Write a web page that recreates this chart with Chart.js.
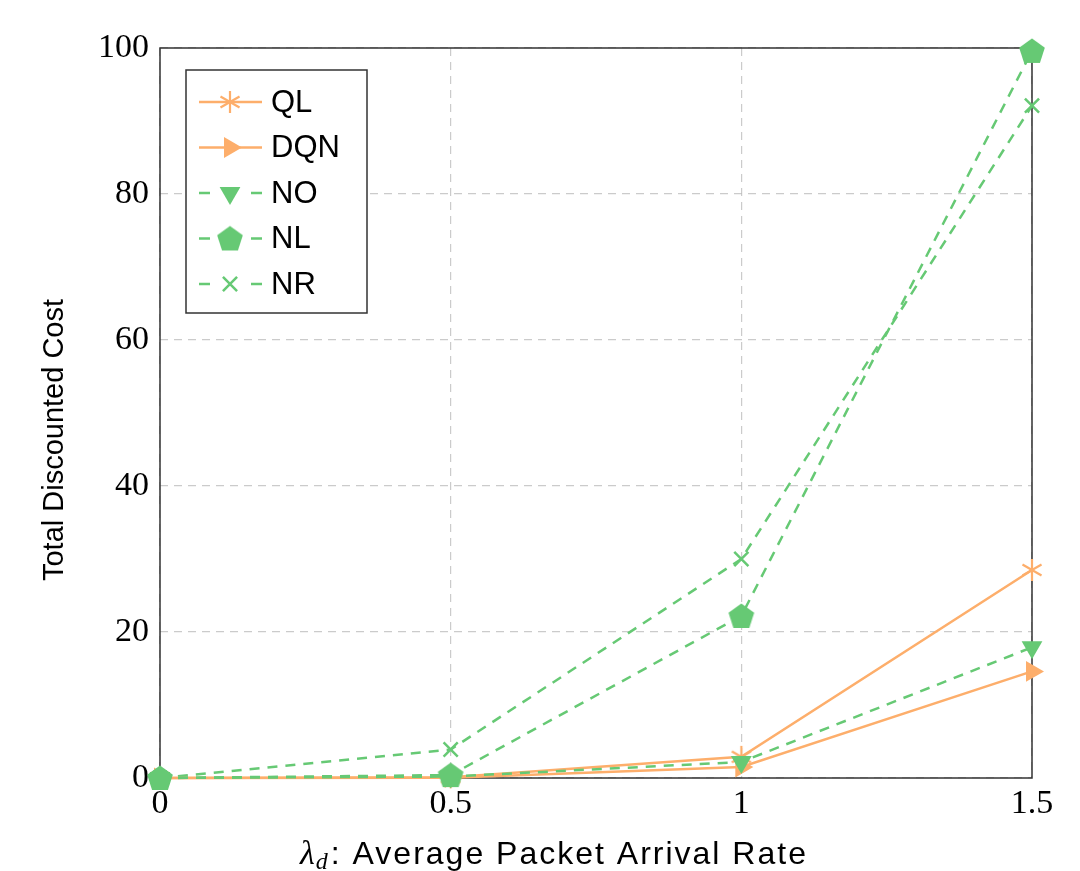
<!DOCTYPE html>
<html>
<head>
<meta charset="utf-8">
<script src="https://cdn.jsdelivr.net/npm/chart.js@4/dist/chart.umd.min.js"></script>
<style>
  html, body { margin: 0; padding: 0; background: #fff; }
  #wrap { width: 1080px; height: 871px; }
</style>
</head>
<body>
<div id="wrap"><canvas id="costChart" width="1080" height="871"></canvas></div>
<script>
// data
var arrivalRates = [0, 0.5, 1, 1.5];
var seriesNames = ['QL', 'DQN', 'NO', 'NL', 'NR'];
var qlCost  = [0, 0.1, 2.9, 28.5];
var dqnCost = [0, 0.05, 1.5, 14.6];
var noCost  = [0, 0.2, 2.2, 17.9];
var nlCost  = [0, 0.4, 22.2, 99.6];
var nrCost  = [0, 3.9, 30.0, 92.1];
var yTicks = [0, 20, 40, 60, 80, 100];
var xTicks = [0, 0.5, 1, 1.5];

var orange = '#fdae6b';
var green = '#66c974';

function pts(vals) {
  return vals.map(function(v, i) { return { x: arrivalRates[i], y: v }; });
}

// custom marker images
function makeAsterisk() {
  var c = document.createElement('canvas');
  c.width = 26; c.height = 26;
  var g = c.getContext('2d');
  g.strokeStyle = orange; g.lineWidth = 2.2;
  for (var k = 0; k < 3; k++) {
    var a = Math.PI / 2 + k * Math.PI / 3;
    g.beginPath();
    g.moveTo(13 + Math.cos(a) * 11, 13 - Math.sin(a) * 11);
    g.lineTo(13 - Math.cos(a) * 11, 13 + Math.sin(a) * 11);
    g.stroke();
  }
  return c;
}
function makePentagon() {
  var c = document.createElement('canvas');
  c.width = 28; c.height = 28;
  var g = c.getContext('2d');
  g.fillStyle = green;
  g.beginPath();
  for (var k = 0; k < 5; k++) {
    var a = -Math.PI / 2 + k * 2 * Math.PI / 5;
    var px = 14 + Math.cos(a) * 13.5, py = 15 + Math.sin(a) * 13.5;
    if (k === 0) g.moveTo(px, py); else g.lineTo(px, py);
  }
  g.closePath();
  g.fill();
  return c;
}
var asteriskImg = makeAsterisk();
var pentagonImg = makePentagon();

// full frame around plot area
var framePlugin = {
  id: 'frame',
  beforeDatasetsDraw: function(chart) {
    var a = chart.chartArea, ctx = chart.ctx;
    ctx.save();
    ctx.strokeStyle = '#333';
    ctx.lineWidth = 1.5;
    ctx.strokeRect(a.left, a.top, a.right - a.left, a.bottom - a.top);
    ctx.restore();
  }
};

// axis titles (x one has a subscript)
var titlesPlugin = {
  id: 'axisTitles',
  afterDraw: function(chart) {
    var ctx = chart.ctx;
    ctx.save();
    ctx.fillStyle = '#000';
    ctx.textBaseline = 'middle';

    // y title
    ctx.save();
    ctx.translate(55, 440);
    ctx.rotate(-Math.PI / 2);
    ctx.textAlign = 'center';
    ctx.font = '29px "Liberation Sans"';
    ctx.fillText('Total Discounted Cost', 0, 0);
    ctx.restore();

    // x title
    var cx = 554, y = 855;
    var lam = 'λ', sub = 'd', rest = ': Average Packet Arrival Rate';
    ctx.font = 'italic 34px "Liberation Serif"';
    var wl = ctx.measureText(lam).width;
    ctx.font = 'italic 24px "Liberation Serif"';
    var ws = ctx.measureText(sub).width;
    ctx.font = '32px "Liberation Sans"';
    ctx.letterSpacing = '2px';
    var wr = ctx.measureText(rest).width;
    ctx.letterSpacing = '0px';
    var x0 = cx - (wl + ws + wr + 4) / 2;
    ctx.textAlign = 'left';
    ctx.font = 'italic 34px "Liberation Serif"';
    ctx.fillText(lam, x0, y);
    ctx.font = 'italic 24px "Liberation Serif"';
    ctx.fillText(sub, x0 + wl + 1, y + 8);
    ctx.font = '32px "Liberation Sans"';
    ctx.letterSpacing = '2px';
    ctx.fillText(rest, x0 + wl + ws + 4, y);
    ctx.restore();
  }
};

// legend box inside the plot
var legendPlugin = {
  id: 'boxLegend',
  afterDraw: function(chart) {
    var ctx = chart.ctx;
    var bx = 186, by = 70, bw = 181, bh = 243;
    ctx.save();
    ctx.fillStyle = '#fff';
    ctx.fillRect(bx, by, bw, bh);
    ctx.strokeStyle = '#333';
    ctx.lineWidth = 1.5;
    ctx.strokeRect(bx, by, bw, bh);
    chart.data.datasets.forEach(function(ds, i) {
      var y = 102 + i * 45.5;
      ctx.strokeStyle = ds.borderColor;
      ctx.fillStyle = ds.borderColor;
      ctx.lineWidth = 2.5;
      ctx.beginPath();
      if (ds.borderDash) {
        ctx.moveTo(199, y); ctx.lineTo(210, y);
        ctx.moveTo(251, y); ctx.lineTo(262, y);
      } else {
        ctx.moveTo(199, y); ctx.lineTo(262, y);
      }
      ctx.stroke();
      ctx.lineWidth = ds.pointBorderWidth || 1;
      Chart.helpers.drawPoint(ctx, {
        pointStyle: ds.pointStyle,
        radius: ds.pointRadius,
        rotation: ds.pointRotation || 0,
        borderWidth: ds.pointBorderWidth || 0
      }, 230, y);
      ctx.fillStyle = '#000';
      ctx.font = '31px "Liberation Sans"';
      ctx.textAlign = 'left';
      ctx.textBaseline = 'middle';
      ctx.fillText(ds.label, 271, y + 1);
    });
    ctx.restore();
  }
};

var ctx = document.getElementById('costChart').getContext('2d');
var costChart = new Chart(ctx, {
  type: 'line',
  data: {
    datasets: [
      { label: seriesNames[0], data: pts(qlCost), borderColor: orange, backgroundColor: orange,
        borderWidth: 2.5, pointStyle: asteriskImg, pointRadius: 11, order: 3 },
      { label: seriesNames[1], data: pts(dqnCost), borderColor: orange, backgroundColor: orange,
        borderWidth: 2.5, pointStyle: 'triangle', pointRotation: 90, pointRadius: 12, pointBorderWidth: 0, order: 4 },
      { label: seriesNames[2], data: pts(noCost), borderColor: green, backgroundColor: green,
        borderWidth: 2.5, borderDash: [10, 8], pointStyle: 'triangle', pointRotation: 180, pointRadius: 12, pointBorderWidth: 0, order: 2 },
      { label: seriesNames[3], data: pts(nlCost), borderColor: green, backgroundColor: green,
        borderWidth: 2.5, borderDash: [10, 8], pointStyle: pentagonImg, pointRadius: 13, order: 1 },
      { label: seriesNames[4], data: pts(nrCost), borderColor: green, backgroundColor: green,
        borderWidth: 2.5, borderDash: [10, 8], pointStyle: 'crossRot', pointRadius: 10, pointBorderWidth: 2.5, order: 5 }
    ]
  },
  options: {
    responsive: false,
    animation: false,
    events: [],
    clip: false,
    layout: { padding: { top: 48, right: 48, left: 0, bottom: 0 } },
    plugins: {
      legend: { display: false },
      tooltip: { enabled: false }
    },
    scales: {
      x: {
        type: 'linear', min: 0, max: 1.5,
        afterBuildTicks: function(s) { s.ticks = xTicks.map(function(v) { return { value: v }; }); },
        afterFit: function(s) { s.height = 93; },
        ticks: {
          color: '#000', padding: 6,
          font: { family: 'Liberation Serif', size: 34 },
          callback: function(v) { return String(v); }
        },
        grid: { color: 'rgba(190,190,190,0.8)', lineWidth: 1.2, drawTicks: false },
        border: { display: false, dash: [8, 6] }
      },
      y: {
        min: 0, max: 100,
        afterBuildTicks: function(s) { s.ticks = yTicks.map(function(v) { return { value: v }; }); },
        afterFit: function(s) { s.width = 160; },
        ticks: {
          color: '#000', padding: 11,
          font: { family: 'Liberation Serif', size: 34 }
        },
        grid: { color: 'rgba(190,190,190,0.8)', lineWidth: 1.2, drawTicks: false },
        border: { display: false, dash: [8, 6] }
      }
    }
  },
  plugins: [framePlugin, titlesPlugin, legendPlugin]
});
</script>
</body>
</html>
